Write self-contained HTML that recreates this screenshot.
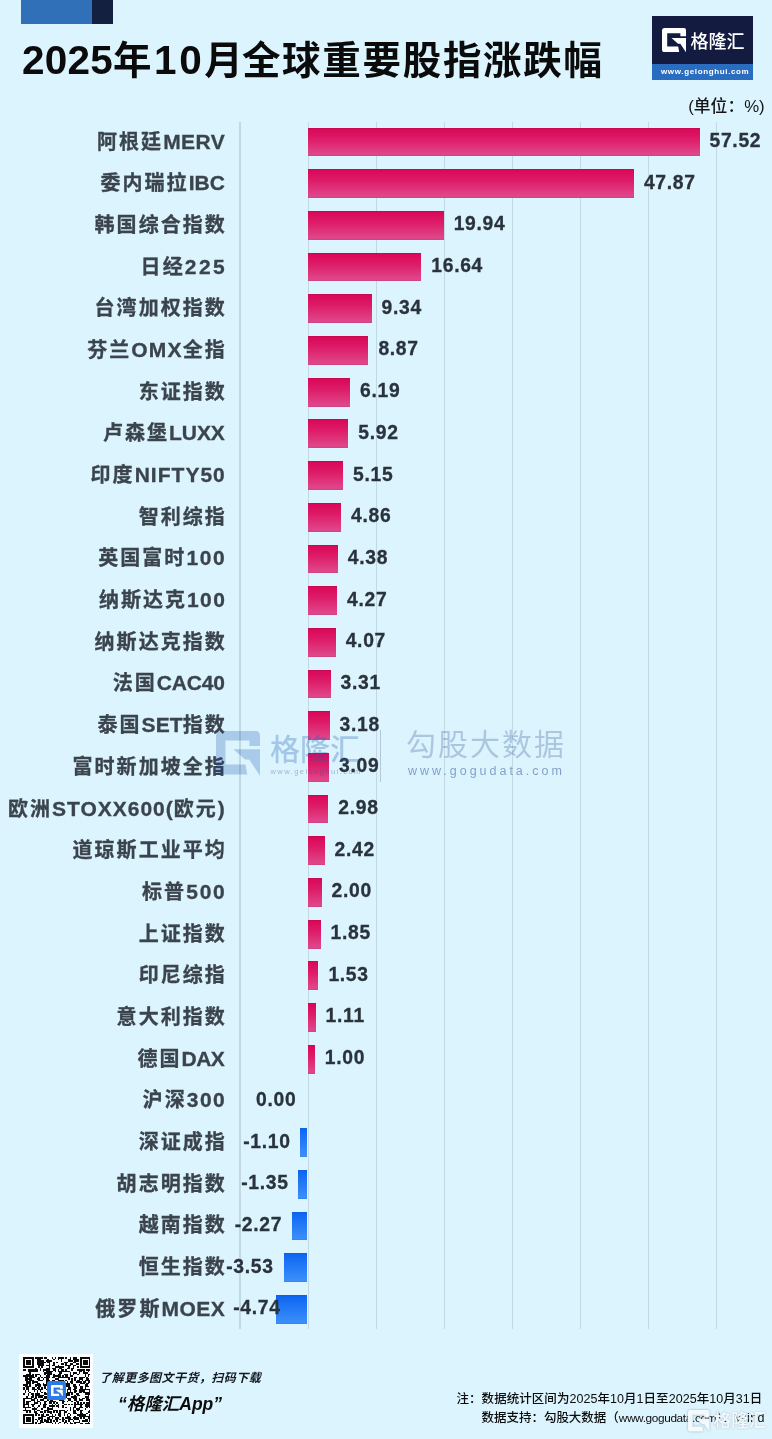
<!DOCTYPE html>
<html lang="zh-CN"><head><meta charset="utf-8"><title>2025年10月全球重要股指涨跌幅</title>
<style>
html,body{margin:0;padding:0}
body{width:772px;height:1439px;overflow:hidden;background:#dcf4fe;position:relative;font-family:"Liberation Sans","Noto Sans CJK SC",sans-serif;color:#111}
#stage{position:absolute;left:0;top:0;width:772px;height:1439px;overflow:hidden;will-change:transform}
.abs{position:absolute;white-space:nowrap}
.title{left:22px;top:30.6px;font-size:38.5px;line-height:58px;font-weight:700;color:#0b0b0b;letter-spacing:1.7px}
.dg{font-size:40.5px;letter-spacing:.2px}
.dg2{font-size:40.5px;letter-spacing:2.5px;margin-left:1px}
.yue{letter-spacing:-.8px}
.unit{right:7.3px;top:95px;font-size:16.8px;line-height:24px;color:#151515;font-weight:500}
.grid{position:absolute;top:121.5px;height:1207.5px;width:1.4px;background:#c2d9e4}
.lab{position:absolute;right:547.2px;white-space:nowrap;font-size:20px;line-height:30px;height:30px;font-weight:700;color:#3b444d;letter-spacing:2.05px;text-align:right;-webkit-text-stroke:.3px #3b444d}
.lab span{font-size:21px}
.val{position:absolute;white-space:nowrap;font-size:19.3px;line-height:30px;height:30px;font-weight:700;color:#2a333c;letter-spacing:.7px;-webkit-text-stroke:.3px #2a333c}
.bar{position:absolute;height:28.8px}
.pos{background:linear-gradient(to bottom,#b80a4c 0,#da0858 4%,#dd1c68 40%,#e0478b 94%,#c8447f 100%)}
.neg{background:linear-gradient(to bottom,#0d5fe6 0,#0f68f3 8%,#3c8ff9 96%,#2f7fe8 100%)}

</style></head><body><div id="stage">
<div class="abs" style="left:21px;top:0;width:71px;height:24px;background:#2f70b9"></div>
<div class="abs" style="left:92px;top:0;width:20.5px;height:24px;background:#14203f"></div>
<div class="abs title"><span class="dg">2025</span>年<span class="dg2">10</span><span class="yue">月</span>全球重要股指涨跌幅</div>
<div class="abs unit">(单位：%)</div>
<div class="grid" style="left:239.4px"></div>
<div class="grid" style="left:307.5px"></div>
<div class="grid" style="left:375.6px"></div>
<div class="grid" style="left:443.6px"></div>
<div class="grid" style="left:511.7px"></div>
<div class="grid" style="left:579.8px"></div>
<div class="grid" style="left:647.8px"></div>
<div class="grid" style="left:715.9px"></div>
<div class="lab" style="top:126.50px;margin-right:-0.45px">阿根廷<span style="letter-spacing:0.45px">MERV</span></div>
<div class="bar pos" style="left:308.0px;top:127.60px;width:391.5px"></div>
<div class="val" style="left:709.5px;top:126.00px">57.52</div>
<div class="lab" style="top:168.19px;margin-right:-0.00px">委内瑞拉<span style="letter-spacing:0.00px">IBC</span></div>
<div class="bar pos" style="left:308.0px;top:169.29px;width:325.9px"></div>
<div class="val" style="left:643.9px;top:167.69px">47.87</div>
<div class="lab" style="top:209.88px;margin-right:-2.05px">韩国综合指数</div>
<div class="bar pos" style="left:308.0px;top:210.98px;width:135.7px"></div>
<div class="val" style="left:453.7px;top:209.38px">19.94</div>
<div class="lab" style="top:251.57px;margin-right:-2.53px">日经<span style="letter-spacing:2.53px">225</span></div>
<div class="bar pos" style="left:308.0px;top:252.67px;width:113.3px"></div>
<div class="val" style="left:431.3px;top:251.07px">16.64</div>
<div class="lab" style="top:293.26px;margin-right:-2.05px">台湾加权指数</div>
<div class="bar pos" style="left:308.0px;top:294.36px;width:63.6px"></div>
<div class="val" style="left:381.6px;top:292.76px">9.34</div>
<div class="lab" style="top:334.95px;margin-right:-2.05px">芬兰<span style="letter-spacing:1.19px">OMX</span>全指</div>
<div class="bar pos" style="left:308.0px;top:336.05px;width:60.4px"></div>
<div class="val" style="left:378.4px;top:334.45px">8.87</div>
<div class="lab" style="top:376.64px;margin-right:-2.05px">东证指数</div>
<div class="bar pos" style="left:308.0px;top:377.74px;width:42.1px"></div>
<div class="val" style="left:360.1px;top:376.14px">6.19</div>
<div class="lab" style="top:418.33px;margin-right:0.08px">卢森堡<span style="letter-spacing:-0.08px">LUXX</span></div>
<div class="bar pos" style="left:308.0px;top:419.43px;width:40.3px"></div>
<div class="val" style="left:358.3px;top:417.83px">5.92</div>
<div class="lab" style="top:460.02px;margin-right:-1.02px">印度<span style="letter-spacing:1.02px">NIFTY50</span></div>
<div class="bar pos" style="left:308.0px;top:461.12px;width:35.1px"></div>
<div class="val" style="left:353.1px;top:459.52px">5.15</div>
<div class="lab" style="top:501.71px;margin-right:-2.05px">智利综指</div>
<div class="bar pos" style="left:308.0px;top:502.81px;width:33.1px"></div>
<div class="val" style="left:351.1px;top:501.21px">4.86</div>
<div class="lab" style="top:543.40px;margin-right:-1.68px">英国富时<span style="letter-spacing:1.68px">100</span></div>
<div class="bar pos" style="left:308.0px;top:544.50px;width:29.8px"></div>
<div class="val" style="left:347.8px;top:542.90px">4.38</div>
<div class="lab" style="top:585.09px;margin-right:-1.33px">纳斯达克<span style="letter-spacing:1.33px">100</span></div>
<div class="bar pos" style="left:308.0px;top:586.19px;width:29.1px"></div>
<div class="val" style="left:347.1px;top:584.59px">4.27</div>
<div class="lab" style="top:626.78px;margin-right:-2.05px">纳斯达克指数</div>
<div class="bar pos" style="left:308.0px;top:627.88px;width:27.7px"></div>
<div class="val" style="left:345.7px;top:626.28px">4.07</div>
<div class="lab" style="top:668.47px;margin-right:0.20px">法国<span style="letter-spacing:-0.20px">CAC40</span></div>
<div class="bar pos" style="left:308.0px;top:669.57px;width:22.5px"></div>
<div class="val" style="left:340.5px;top:667.97px">3.31</div>
<div class="lab" style="top:710.16px;margin-right:-2.05px">泰国<span style="letter-spacing:0.13px">SET</span>指数</div>
<div class="bar pos" style="left:308.0px;top:711.26px;width:21.6px"></div>
<div class="val" style="left:339.6px;top:709.66px">3.18</div>
<div class="lab" style="top:751.85px;margin-right:-2.05px">富时新加坡全指</div>
<div class="bar pos" style="left:308.0px;top:752.95px;width:21.0px"></div>
<div class="val" style="left:339.0px;top:751.35px">3.09</div>
<div class="lab" style="top:793.54px;margin-right:-0.98px">欧洲<span style="letter-spacing:0.98px">STOXX600(</span>欧元<span style="letter-spacing:0.98px">)</span></div>
<div class="bar pos" style="left:308.0px;top:794.64px;width:20.3px"></div>
<div class="val" style="left:338.3px;top:793.04px">2.98</div>
<div class="lab" style="top:835.23px;margin-right:-2.05px">道琼斯工业平均</div>
<div class="bar pos" style="left:308.0px;top:836.33px;width:16.5px"></div>
<div class="val" style="left:334.5px;top:834.73px">2.42</div>
<div class="lab" style="top:876.92px;margin-right:-1.80px">标普<span style="letter-spacing:1.80px">500</span></div>
<div class="bar pos" style="left:308.0px;top:878.02px;width:13.6px"></div>
<div class="val" style="left:331.6px;top:876.42px">2.00</div>
<div class="lab" style="top:918.61px;margin-right:-2.05px">上证指数</div>
<div class="bar pos" style="left:308.0px;top:919.71px;width:12.6px"></div>
<div class="val" style="left:330.6px;top:918.11px">1.85</div>
<div class="lab" style="top:960.30px;margin-right:-2.05px">印尼综指</div>
<div class="bar pos" style="left:308.0px;top:961.40px;width:10.4px"></div>
<div class="val" style="left:328.4px;top:959.80px">1.53</div>
<div class="lab" style="top:1001.99px;margin-right:-2.05px">意大利指数</div>
<div class="bar pos" style="left:308.0px;top:1003.09px;width:7.6px"></div>
<div class="val" style="left:325.6px;top:1001.49px">1.11</div>
<div class="lab" style="top:1043.68px;margin-right:0.53px">德国<span style="letter-spacing:-0.53px">DAX</span></div>
<div class="bar pos" style="left:308.0px;top:1044.78px;width:6.8px"></div>
<div class="val" style="left:324.8px;top:1043.18px">1.00</div>
<div class="lab" style="top:1085.37px;margin-right:-1.52px">沪深<span style="letter-spacing:1.52px">300</span></div>
<div class="val" style="left:256.0px;top:1084.87px">0.00</div>
<div class="lab" style="top:1127.06px;margin-right:-2.05px">深证成指</div>
<div class="bar neg" style="left:299.8px;top:1128.16px;width:7.2px"></div>
<div class="val" style="right:482.0px;top:1126.56px;margin-right:-.7px">-1.10</div>
<div class="lab" style="top:1168.75px;margin-right:-2.05px">胡志明指数</div>
<div class="bar neg" style="left:298.1px;top:1169.85px;width:8.9px"></div>
<div class="val" style="right:484.0px;top:1168.25px;margin-right:-.7px">-1.35</div>
<div class="lab" style="top:1210.44px;margin-right:-2.05px">越南指数</div>
<div class="bar neg" style="left:292.1px;top:1211.54px;width:14.9px"></div>
<div class="val" style="right:490.5px;top:1209.94px;margin-right:-.7px">-2.27</div>
<div class="lab" style="top:1252.13px;margin-right:-2.05px">恒生指数</div>
<div class="bar neg" style="left:283.8px;top:1253.23px;width:23.2px"></div>
<div class="val" style="right:499.0px;top:1251.63px;margin-right:-.7px">-3.53</div>
<div class="lab" style="top:1293.82px;margin-right:-0.50px">俄罗斯<span style="letter-spacing:0.50px">MOEX</span></div>
<div class="bar neg" style="left:275.8px;top:1294.92px;width:31.2px"></div>
<div class="val" style="right:492.0px;top:1293.32px;margin-right:-.7px">-4.74</div>
<div class="abs" style="left:652px;top:16px;width:101px;height:48px;background:#131c40"></div>
<div class="abs" style="left:652px;top:63.6px;width:101px;height:16px;background:#2a6dc0"></div>
<svg class="abs" style="left:662.3px;top:27.8px" width="24.2" height="24.6" viewBox="0 0 24.2 24.6"><path d="M2.6,0 H21.6 Q24.2,0 24.2,2.6 V8.2 H18.4 V5.2 H5.2 V18.4 H16.2 L17.2,24 H2.6 Q0,24 0,21.4 V2.6 Q0,0 2.6,0 Z M9.6,10 H24.2 V24.6 L18.3,15.7 H16 Z" fill="#fff"/></svg>
<div class="abs" style="left:690.5px;top:29px;font-size:18px;line-height:26px;color:#fff;font-weight:500">格隆汇</div>
<div class="abs" style="left:661px;top:65px;font-size:8px;line-height:13px;color:#fff;font-weight:700;letter-spacing:0.64px">www.gelonghui.com</div>
<svg class="abs" style="left:216.2px;top:731px;opacity:.24" width="44" height="44.7" viewBox="0 0 24.2 24.6" preserveAspectRatio="none"><path d="M2.6,0 H21.6 Q24.2,0 24.2,2.6 V8.2 H18.4 V5.2 H5.2 V18.4 H16.2 L17.2,24 H2.6 Q0,24 0,21.4 V2.6 Q0,0 2.6,0 Z M9.6,10 H24.2 V24.6 L18.3,15.7 H16 Z" fill="#0d47a6"/></svg>
<div class="abs" style="left:270px;top:728px;font-size:30px;line-height:44px;color:#2561b5;opacity:.3;font-weight:500">格隆汇</div>
<div class="abs" style="left:270.5px;top:767px;font-size:7.5px;line-height:10px;color:#2b4f8f;opacity:.38;letter-spacing:1.44px">www.gelonghui.com</div>
<div class="abs" style="left:380px;top:730px;width:1px;height:52px;background:#b4c8da"></div>
<div class="abs" style="left:406px;top:723px;font-size:30px;line-height:44px;color:#1e3f88;opacity:.25;font-weight:400;letter-spacing:2px">勾股大数据</div>
<div class="abs" style="left:408px;top:762px;font-size:12.5px;line-height:18px;color:#143986;opacity:.45;letter-spacing:2.98px">www.gogudata.com</div>
<div class="abs" style="left:19.3px;top:1353.8px;width:74px;height:74px;background:#fcfeff"></div>
<svg class="abs" style="left:22.5px;top:1356.7px" width="67.5" height="67.5" viewBox="0 0 45 45" shape-rendering="crispEdges"><path d="M0 0h7v1h-7zM8 0h5v1h-5zM14 0h2v1h-2zM19 0h1v1h-1zM21 0h1v1h-1zM23 0h4v1h-4zM28 0h1v1h-1zM31 0h1v1h-1zM33 0h3v1h-3zM38 0h7v1h-7zM0 1h1v1h-1zM6 1h1v1h-1zM9 1h3v1h-3zM16 1h1v1h-1zM20 1h1v1h-1zM23 1h1v1h-1zM25 1h1v1h-1zM30 1h2v1h-2zM33 1h4v1h-4zM38 1h1v1h-1zM44 1h1v1h-1zM0 2h1v1h-1zM2 2h3v1h-3zM6 2h1v1h-1zM9 2h5v1h-5zM15 2h4v1h-4zM25 2h1v1h-1zM30 2h3v1h-3zM34 2h3v1h-3zM38 2h1v1h-1zM40 2h3v1h-3zM44 2h1v1h-1zM0 3h1v1h-1zM2 3h3v1h-3zM6 3h1v1h-1zM9 3h6v1h-6zM16 3h2v1h-2zM20 3h1v1h-1zM22 3h1v1h-1zM27 3h3v1h-3zM33 3h2v1h-2zM38 3h1v1h-1zM40 3h3v1h-3zM44 3h1v1h-1zM0 4h1v1h-1zM2 4h3v1h-3zM6 4h1v1h-1zM9 4h5v1h-5zM17 4h1v1h-1zM20 4h1v1h-1zM25 4h2v1h-2zM28 4h1v1h-1zM31 4h2v1h-2zM35 4h2v1h-2zM38 4h1v1h-1zM40 4h3v1h-3zM44 4h1v1h-1zM0 5h1v1h-1zM6 5h1v1h-1zM10 5h4v1h-4zM15 5h3v1h-3zM19 5h2v1h-2zM23 5h1v1h-1zM28 5h4v1h-4zM33 5h2v1h-2zM38 5h1v1h-1zM44 5h1v1h-1zM0 6h7v1h-7zM10 6h1v1h-1zM12 6h1v1h-1zM17 6h1v1h-1zM21 6h6v1h-6zM30 6h1v1h-1zM33 6h1v1h-1zM36 6h1v1h-1zM38 6h7v1h-7zM8 7h1v1h-1zM11 7h1v1h-1zM15 7h3v1h-3zM19 7h3v1h-3zM24 7h2v1h-2zM29 7h2v1h-2zM32 7h2v1h-2zM0 8h2v1h-2zM3 8h7v1h-7zM11 8h1v1h-1zM13 8h5v1h-5zM20 8h2v1h-2zM23 8h1v1h-1zM25 8h2v1h-2zM28 8h1v1h-1zM32 8h1v1h-1zM36 8h5v1h-5zM42 8h3v1h-3zM3 9h7v1h-7zM13 9h1v1h-1zM15 9h5v1h-5zM21 9h1v1h-1zM23 9h8v1h-8zM37 9h2v1h-2zM40 9h1v1h-1zM43 9h1v1h-1zM4 10h1v1h-1zM14 10h5v1h-5zM24 10h2v1h-2zM31 10h1v1h-1zM33 10h3v1h-3zM37 10h1v1h-1zM40 10h3v1h-3zM2 11h3v1h-3zM6 11h1v1h-1zM8 11h3v1h-3zM14 11h1v1h-1zM16 11h3v1h-3zM20 11h1v1h-1zM23 11h2v1h-2zM27 11h3v1h-3zM31 11h1v1h-1zM33 11h1v1h-1zM36 11h1v1h-1zM41 11h1v1h-1zM43 11h2v1h-2zM0 12h7v1h-7zM8 12h1v1h-1zM11 12h1v1h-1zM15 12h3v1h-3zM20 12h5v1h-5zM26 12h1v1h-1zM28 12h2v1h-2zM31 12h2v1h-2zM41 12h1v1h-1zM43 12h1v1h-1zM1 13h2v1h-2zM4 13h4v1h-4zM10 13h1v1h-1zM12 13h1v1h-1zM14 13h4v1h-4zM19 13h2v1h-2zM23 13h8v1h-8zM34 13h2v1h-2zM37 13h4v1h-4zM42 13h1v1h-1zM1 14h5v1h-5zM9 14h2v1h-2zM13 14h1v1h-1zM15 14h2v1h-2zM21 14h3v1h-3zM30 14h1v1h-1zM32 14h1v1h-1zM34 14h1v1h-1zM37 14h3v1h-3zM42 14h2v1h-2zM1 15h2v1h-2zM4 15h3v1h-3zM10 15h3v1h-3zM15 15h3v1h-3zM19 15h2v1h-2zM23 15h4v1h-4zM28 15h1v1h-1zM32 15h1v1h-1zM34 15h1v1h-1zM36 15h2v1h-2zM39 15h1v1h-1zM41 15h4v1h-4zM2 16h3v1h-3zM6 16h4v1h-4zM15 16h2v1h-2zM19 16h1v1h-1zM21 16h7v1h-7zM29 16h1v1h-1zM31 16h2v1h-2zM35 16h4v1h-4zM40 16h2v1h-2zM43 16h2v1h-2zM2 17h3v1h-3zM6 17h1v1h-1zM9 17h2v1h-2zM13 17h1v1h-1zM15 17h3v1h-3zM22 17h3v1h-3zM27 17h4v1h-4zM32 17h1v1h-1zM38 17h3v1h-3zM42 17h2v1h-2zM0 18h3v1h-3zM4 18h1v1h-1zM8 18h4v1h-4zM13 18h3v1h-3zM21 18h1v1h-1zM23 18h1v1h-1zM25 18h1v1h-1zM27 18h4v1h-4zM33 18h2v1h-2zM37 18h1v1h-1zM41 18h2v1h-2zM1 19h4v1h-4zM8 19h1v1h-1zM10 19h2v1h-2zM14 19h1v1h-1zM17 19h5v1h-5zM24 19h3v1h-3zM28 19h3v1h-3zM33 19h3v1h-3zM38 19h2v1h-2zM41 19h3v1h-3zM0 20h1v1h-1zM2 20h2v1h-2zM6 20h2v1h-2zM9 20h2v1h-2zM12 20h1v1h-1zM14 20h1v1h-1zM16 20h3v1h-3zM22 20h1v1h-1zM24 20h1v1h-1zM26 20h2v1h-2zM30 20h2v1h-2zM34 20h2v1h-2zM38 20h2v1h-2zM41 20h1v1h-1zM0 21h1v1h-1zM2 21h2v1h-2zM6 21h3v1h-3zM10 21h3v1h-3zM15 21h1v1h-1zM18 21h1v1h-1zM20 21h1v1h-1zM24 21h2v1h-2zM27 21h1v1h-1zM29 21h3v1h-3zM33 21h2v1h-2zM37 21h8v1h-8zM1 22h1v1h-1zM3 22h1v1h-1zM7 22h1v1h-1zM9 22h1v1h-1zM11 22h1v1h-1zM16 22h1v1h-1zM18 22h1v1h-1zM21 22h1v1h-1zM24 22h2v1h-2zM27 22h1v1h-1zM29 22h1v1h-1zM31 22h1v1h-1zM34 22h2v1h-2zM37 22h4v1h-4zM44 22h1v1h-1zM1 23h1v1h-1zM4 23h1v1h-1zM9 23h1v1h-1zM12 23h1v1h-1zM14 23h1v1h-1zM17 23h1v1h-1zM19 23h2v1h-2zM22 23h1v1h-1zM24 23h1v1h-1zM29 23h4v1h-4zM34 23h1v1h-1zM37 23h2v1h-2zM40 23h5v1h-5zM0 24h1v1h-1zM3 24h1v1h-1zM5 24h2v1h-2zM8 24h3v1h-3zM14 24h3v1h-3zM19 24h1v1h-1zM21 24h1v1h-1zM24 24h1v1h-1zM26 24h1v1h-1zM28 24h3v1h-3zM32 24h1v1h-1zM35 24h2v1h-2zM41 24h4v1h-4zM3 25h1v1h-1zM6 25h1v1h-1zM8 25h6v1h-6zM18 25h1v1h-1zM20 25h1v1h-1zM23 25h1v1h-1zM26 25h1v1h-1zM28 25h3v1h-3zM34 25h1v1h-1zM36 25h2v1h-2zM43 25h1v1h-1zM2 26h1v1h-1zM5 26h2v1h-2zM8 26h1v1h-1zM10 26h3v1h-3zM14 26h4v1h-4zM22 26h1v1h-1zM24 26h1v1h-1zM28 26h1v1h-1zM32 26h4v1h-4zM41 26h3v1h-3zM0 27h6v1h-6zM7 27h2v1h-2zM13 27h3v1h-3zM17 27h1v1h-1zM20 27h1v1h-1zM22 27h1v1h-1zM24 27h3v1h-3zM29 27h3v1h-3zM33 27h3v1h-3zM37 27h1v1h-1zM39 27h2v1h-2zM42 27h2v1h-2zM0 28h1v1h-1zM5 28h3v1h-3zM9 28h1v1h-1zM11 28h3v1h-3zM16 28h1v1h-1zM18 28h2v1h-2zM24 28h3v1h-3zM30 28h2v1h-2zM34 28h2v1h-2zM37 28h3v1h-3zM42 28h3v1h-3zM0 29h1v1h-1zM2 29h3v1h-3zM7 29h1v1h-1zM9 29h2v1h-2zM14 29h2v1h-2zM17 29h5v1h-5zM26 29h2v1h-2zM29 29h1v1h-1zM32 29h1v1h-1zM35 29h2v1h-2zM44 29h1v1h-1zM0 30h1v1h-1zM2 30h2v1h-2zM7 30h3v1h-3zM11 30h1v1h-1zM14 30h1v1h-1zM17 30h2v1h-2zM20 30h1v1h-1zM22 30h1v1h-1zM26 30h1v1h-1zM34 30h1v1h-1zM36 30h1v1h-1zM38 30h1v1h-1zM40 30h1v1h-1zM42 30h3v1h-3zM0 31h4v1h-4zM5 31h3v1h-3zM11 31h1v1h-1zM13 31h3v1h-3zM19 31h1v1h-1zM21 31h1v1h-1zM23 31h1v1h-1zM27 31h2v1h-2zM30 31h1v1h-1zM32 31h1v1h-1zM34 31h6v1h-6zM41 31h4v1h-4zM0 32h1v1h-1zM3 32h1v1h-1zM6 32h1v1h-1zM10 32h1v1h-1zM13 32h2v1h-2zM17 32h4v1h-4zM22 32h2v1h-2zM26 32h1v1h-1zM34 32h1v1h-1zM38 32h1v1h-1zM41 32h4v1h-4zM0 33h5v1h-5zM7 33h1v1h-1zM9 33h1v1h-1zM13 33h2v1h-2zM16 33h1v1h-1zM19 33h1v1h-1zM23 33h1v1h-1zM26 33h1v1h-1zM28 33h1v1h-1zM31 33h1v1h-1zM33 33h2v1h-2zM37 33h3v1h-3zM42 33h1v1h-1zM44 33h1v1h-1zM1 34h1v1h-1zM6 34h3v1h-3zM12 34h1v1h-1zM16 34h4v1h-4zM31 34h1v1h-1zM33 34h1v1h-1zM35 34h3v1h-3zM41 34h1v1h-1zM0 35h5v1h-5zM7 35h1v1h-1zM9 35h2v1h-2zM14 35h3v1h-3zM20 35h3v1h-3zM24 35h4v1h-4zM29 35h1v1h-1zM31 35h1v1h-1zM33 35h2v1h-2zM36 35h1v1h-1zM38 35h2v1h-2zM44 35h1v1h-1zM2 36h1v1h-1zM4 36h1v1h-1zM7 36h2v1h-2zM11 36h2v1h-2zM14 36h1v1h-1zM16 36h3v1h-3zM20 36h1v1h-1zM22 36h1v1h-1zM24 36h1v1h-1zM27 36h2v1h-2zM33 36h2v1h-2zM38 36h1v1h-1zM43 36h2v1h-2zM8 37h2v1h-2zM13 37h1v1h-1zM18 37h1v1h-1zM23 37h2v1h-2zM27 37h1v1h-1zM30 37h1v1h-1zM33 37h3v1h-3zM38 37h2v1h-2zM42 37h1v1h-1zM0 38h7v1h-7zM8 38h1v1h-1zM10 38h1v1h-1zM12 38h2v1h-2zM15 38h2v1h-2zM19 38h1v1h-1zM21 38h1v1h-1zM23 38h2v1h-2zM27 38h1v1h-1zM29 38h1v1h-1zM31 38h1v1h-1zM36 38h6v1h-6zM44 38h1v1h-1zM0 39h1v1h-1zM6 39h1v1h-1zM12 39h3v1h-3zM17 39h4v1h-4zM24 39h1v1h-1zM29 39h2v1h-2zM34 39h1v1h-1zM37 39h8v1h-8zM0 40h1v1h-1zM2 40h3v1h-3zM6 40h1v1h-1zM10 40h3v1h-3zM16 40h2v1h-2zM19 40h1v1h-1zM21 40h3v1h-3zM26 40h1v1h-1zM28 40h4v1h-4zM33 40h4v1h-4zM38 40h1v1h-1zM40 40h1v1h-1zM43 40h2v1h-2zM0 41h1v1h-1zM2 41h3v1h-3zM6 41h1v1h-1zM8 41h1v1h-1zM10 41h1v1h-1zM12 41h1v1h-1zM14 41h1v1h-1zM16 41h3v1h-3zM21 41h2v1h-2zM24 41h1v1h-1zM26 41h2v1h-2zM30 41h3v1h-3zM34 41h3v1h-3zM41 41h2v1h-2zM44 41h1v1h-1zM0 42h1v1h-1zM2 42h3v1h-3zM6 42h1v1h-1zM9 42h1v1h-1zM11 42h2v1h-2zM14 42h3v1h-3zM18 42h1v1h-1zM20 42h1v1h-1zM22 42h1v1h-1zM26 42h1v1h-1zM28 42h1v1h-1zM30 42h1v1h-1zM33 42h1v1h-1zM37 42h1v1h-1zM39 42h4v1h-4zM44 42h1v1h-1zM0 43h1v1h-1zM6 43h1v1h-1zM8 43h1v1h-1zM11 43h3v1h-3zM15 43h4v1h-4zM21 43h1v1h-1zM24 43h1v1h-1zM27 43h2v1h-2zM31 43h1v1h-1zM34 43h4v1h-4zM43 43h1v1h-1zM0 44h7v1h-7zM8 44h1v1h-1zM10 44h2v1h-2zM19 44h1v1h-1zM21 44h1v1h-1zM23 44h1v1h-1zM27 44h1v1h-1zM29 44h1v1h-1zM31 44h2v1h-2zM34 44h1v1h-1zM38 44h2v1h-2zM41 44h4v1h-4z" fill="#0a0a0a"/></svg>
<div class="abs" style="left:47.3px;top:1381px;width:19px;height:18.5px;border-radius:2.5px;background:#2c7be8"></div>
<svg class="abs" style="left:51px;top:1384.6px" width="11.8" height="11.6" viewBox="0 0 24.2 24.6" preserveAspectRatio="none"><path d="M2.6,0 H21.6 Q24.2,0 24.2,2.6 V8.2 H18.4 V5.2 H5.2 V18.4 H16.2 L17.2,24 H2.6 Q0,24 0,21.4 V2.6 Q0,0 2.6,0 Z M9.6,10 H24.2 V24.6 L18.3,15.7 H16 Z" fill="#fff"/></svg>
<div class="abs" style="left:99.3px;top:1368.6px;font-size:12px;line-height:18px;font-weight:700;font-style:italic;color:#14181f;letter-spacing:.45px">了解更多图文干货，扫码下载</div>
<div class="abs" style="left:118px;top:1391.3px;font-size:17.5px;line-height:26px;font-weight:700;font-style:italic;color:#0c0c0c">“格隆汇App”</div>
<div class="abs" style="left:456.5px;top:1389.5px;font-size:12.5px;line-height:18px;font-weight:500;color:#0c0c0c;letter-spacing:.05px">注：数据统计区间为2025年10月1日至2025年10月31日</div>
<div class="abs" style="left:481.5px;top:1409px;font-size:12.5px;line-height:18px;font-weight:500;color:#0c0c0c;letter-spacing:-.02px">数据支持：勾股大数据（<span style="font-size:11.8px;letter-spacing:-.35px">www.gogudata.com</span>）、<span style="letter-spacing:.35px">Wind</span></div>
<svg class="abs" style="left:688.2px;top:1409.7px;opacity:.97;filter:drop-shadow(0 0 .8px #9aa8b4)" width="21.4" height="22" viewBox="0 0 24.2 24.6" preserveAspectRatio="none"><path d="M2.6,0 H21.6 Q24.2,0 24.2,2.6 V8.2 H18.4 V5.2 H5.2 V18.4 H16.2 L17.2,24 H2.6 Q0,24 0,21.4 V2.6 Q0,0 2.6,0 Z M9.6,10 H24.2 V24.6 L18.3,15.7 H16 Z" fill="#f4fbff"/></svg>
<div class="abs" style="left:713.4px;top:1408.3px;font-size:17.7px;line-height:26px;color:#f0f8fd;opacity:.97;font-weight:700;text-shadow:0 0 1.2px #8e9ca8">格隆汇</div>
</div></body></html>
